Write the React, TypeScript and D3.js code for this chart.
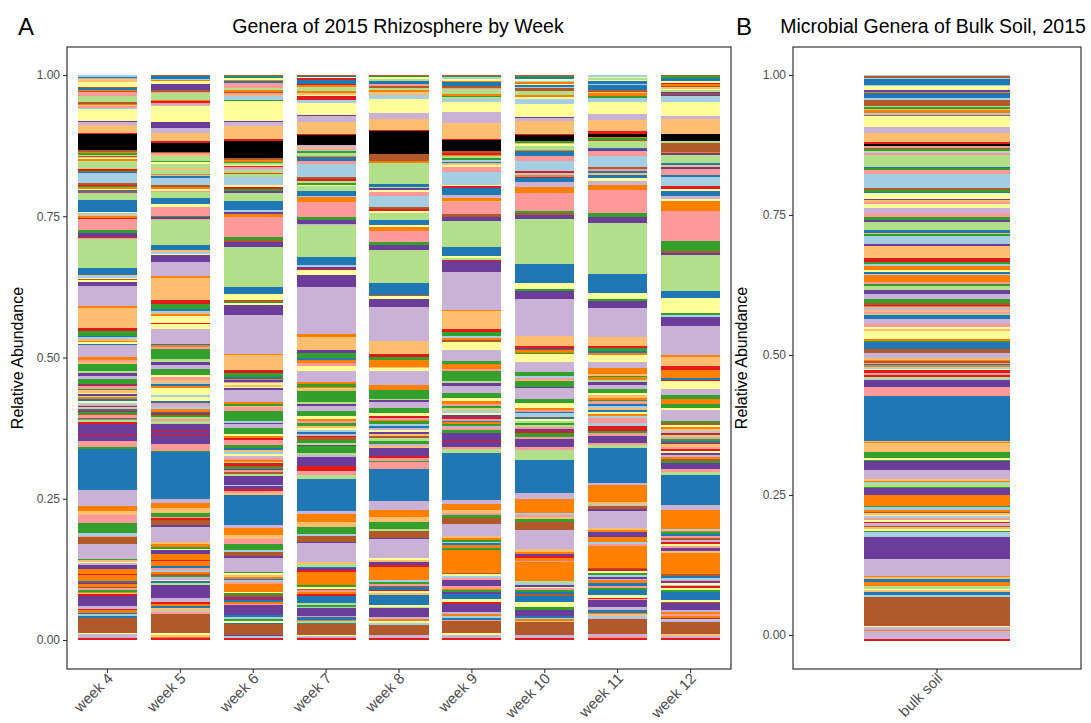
import { useEffect, useRef } from "react";
import * as d3 from "d3";

// fill colours (ColorBrewer "Paired" + black), keyed by one letter
const PALETTE: Record<string, string> = {
  a: "#A6CEE3", b: "#1F78B4", c: "#B2DF8A", d: "#33A02C",
  e: "#FB9A99", f: "#E31A1C", g: "#FDBF6F", h: "#FF7F00",
  i: "#CAB2D6", j: "#6A3D9A", k: "#FFFF99", l: "#B15928",
  z: "#000000",
};

const weeks = ["week 4", "week 5", "week 6", "week 7", "week 8", "week 9", "week 10", "week 11", "week 12"];
const yTicks = [0, 0.25, 0.5, 0.75, 1];

// genus segments, top of the bar first: colour key + abundance in %
const week4 = ["a0.35","b0.2","e0.2","c0.2","g0.2","k0.9","l0.3","b0.3","h0.2","l0.2","e0.7","c1.1","l0.2","h0.3","g0.2","e0.2","a0.3","k2.0","j0.35","i0.5","g1.4","f0.2","z2.8","l0.3","h0.2","d0.3","c0.2","l0.2","g0.2","k0.2","h0.3","c1.2","g0.2","f0.3","d0.2","b0.2","a1.8","l0.3","f0.3","d0.2","h0.2","k0.3","b0.2","l0.2","a0.2","c1.2","b2.1","k0.2","a0.3","g0.2","h0.3","f0.2","e1.9","d0.5","j0.7","f0.2","e0.2","c5.1","b1.2","g0.3","a0.3","k0.2","l0.2","k0.3","j0.7","i3.5","h0.4","g3.5","f0.5","d0.9","b0.3","a0.3","g0.3","h0.2","k0.4","b0.2","i2.0","h0.7","e0.3","g0.3","d1.2","c0.4","j0.5","i0.5","d0.9","f0.3","j0.2","e0.5","d0.2","g0.4","k0.3","j0.2","c0.3","h0.3","b0.3","k0.4","a0.3","e0.3","j0.2","g0.3","b0.3","f0.2","d0.3","l0.3","e0.4","b0.2","h0.3","c0.3","f0.3","j1.8","f0.2","j1.1","e1.0","d0.3","b7.4","i2.8","h0.9","g0.7","e1.4","d1.8","a0.4","e0.3","l1.1","i2.7","d0.2","g0.3","k0.3","i0.3","j0.7","h0.9","f0.2","h1.0","b0.3","f0.3","h0.4","l0.3","e0.3","d0.3","h0.3","c0.2","f0.2","j1.8","i0.5","f0.3","h0.4","b0.3","a0.3","b0.3","l2.7","k0.2","i0.7","f0.35"];
const week5 = ["l0.2","b0.2","b0.3","a0.2","h0.2","k0.5","j1.0","l0.3","e0.3","c1.1","h0.3","f0.3","e0.3","a0.2","k2.8","j1.0","i0.9","g1.4","f0.3","z1.6","l0.3","e0.2","g0.2","c0.9","d0.2","k0.3","c0.8","g0.2","c0.7","h0.2","a0.3","b0.2","a1.3","l0.4","h0.3","k0.3","e0.2","c1.1","b1.0","k0.5","e1.6","d0.2","j0.3","e0.2","c4.4","b0.8","g0.4","a0.3","k0.3","j1.1","i2.5","h0.4","g3.8","f0.7","d0.9","b0.3","a0.3","g0.3","h0.3","k1.2","f0.2","k0.8","i2.6","b0.2","h0.4","e0.3","d1.8","c0.5","j0.5","i0.7","d1.1","k0.4","e0.5","g0.4","a0.3","b0.3","h0.4","k1.2","a0.3","k0.7","b0.3","e0.4","i0.4","a0.3","h0.5","b0.3","f0.3","d0.3","c0.4","e0.3","c0.5","j1.0","f0.3","j0.7","f0.2","j1.4","e1.2","d0.2","b8.2","i0.7","h0.8","g0.9","d0.6","e0.2","f0.4","l0.9","j0.3","i2.6","g0.4","h0.5","d0.3","k0.3","j0.6","h1.0","f0.3","h0.9","b0.3","e0.3","a0.3","h0.4","l0.3","d0.3","i0.4","k0.3","b0.3","c0.4","j2.2","i0.7","f0.3","h0.5","b0.3","g0.4","a0.3","e0.3","l3.4","k0.3","g0.3","h0.2","f0.35"];
const week6 = ["l0.2","d0.2","b0.2","k0.3","h0.2","b0.3","e0.8","c0.5","h0.3","l0.2","e0.3","g0.2","a0.3","a0.3","d0.2","k3.5","j0.3","i0.7","g2.2","f0.4","z3.0","l0.3","h0.3","d0.2","c0.3","k0.2","f0.2","e0.3","a0.3","c0.3","g0.2","l0.2","c0.4","a1.5","k0.3","f0.4","d0.3","j0.3","c0.3","c1.2","b1.6","a0.3","j0.3","h0.5","e3.5","d0.6","l0.3","j0.9","c7.0","b1.3","k1.0","l0.3","d0.2","k0.4","j1.7","i6.8","h0.2","g2.6","f0.6","d0.7","b0.3","h0.3","j0.2","e0.3","k0.3","g0.3","k0.3","j0.3","i2.0","h0.4","d0.3","g0.3","e0.6","d1.8","a0.3","j0.2","i0.8","d1.0","k0.4","h0.3","f0.3","e0.9","d0.5","b0.3","g0.4","a0.3","k0.4","i0.3","e0.4","h0.3","c0.3","f0.4","l0.3","d0.3","j0.2","e0.3","l0.4","c0.4","j1.5","a0.2","j0.5","f0.3","e0.4","g0.3","b5.3","i0.6","h1.1","g0.7","e0.9","d1.1","a0.3","l0.8","j0.3","i2.4","d0.3","k0.3","g0.3","h0.3","b0.3","a0.3","e0.3","h0.3","h1.1","k0.2","d0.3","l0.4","j0.3","f0.3","b0.3","h0.3","e0.3","j1.6","b0.4","a0.4","d0.3","k0.3","b0.3","l1.9","j0.2","a0.3","f0.35"];
const week7 = ["l0.2","b0.2","k0.2","f0.2","b0.3","b0.4","f0.3","h0.2","c0.8","h0.4","g0.3","k0.2","f0.6","a0.5","k2.1","j0.2","i1.0","g2.1","f0.2","z1.8","i0.3","g0.3","e0.3","a0.2","d0.2","c0.5","h0.3","b0.6","e0.6","a2.3","l0.2","f0.5","c0.2","d0.4","k0.2","c0.8","b0.9","a0.3","h0.8","e2.6","d0.6","j0.6","i0.2","c5.6","b1.4","a0.3","j0.3","f0.2","k0.8","j2.1","i8.3","h0.4","g2.4","j0.4","d0.3","d0.6","b0.3","h0.5","e0.3","e0.3","k0.8","i2.0","h0.3","d0.5","h0.3","g0.4","d1.9","c0.4","j0.4","i0.8","d0.9","k0.6","h0.3","e0.4","d0.4","g0.3","k0.4","a0.3","b0.4","i0.3","f0.3","l0.5","d0.5","c0.3","j0.3","d1.1","c0.3","i0.5","j1.5","f0.8","e0.7","c0.7","b5.6","i0.5","h1.5","g0.8","d1.3","a0.3","l1.0","j0.2","i3.2","g0.5","c0.4","b0.2","j0.4","f0.3","h0.4","h1.9","d0.3","k0.3","l0.3","e0.3","h0.4","f0.3","b0.3","b1.0","c0.3","d0.3","a0.2","j1.3","e0.3","b0.4","h0.3","a0.3","d0.2","l1.9","k0.2","i0.3","f0.35"];
const week8 = ["l0.2","d0.2","k0.3","c0.3","b0.5","e0.4","l0.3","c0.4","h0.4","g0.4","a0.7","k2.4","i1.0","g1.9","f0.3","z3.9","l1.2","h0.4","c3.5","b0.5","c0.3","j0.3","k0.3","e0.8","a1.9","l0.3","f0.3","k0.3","c0.3","c0.9","b0.9","k0.3","h0.8","e1.8","d0.6","j0.9","c5.6","b2.0","l0.3","k0.5","j1.4","i5.7","g2.4","f0.4","d0.5","h1.2","g0.3","k0.5","i2.4","h0.9","d1.4","c0.3","j0.3","i1.0","d0.8","k0.6","f0.3","e0.3","h0.3","d0.5","a0.3","b0.4","i0.3","k0.4","j0.3","g0.4","l0.3","c0.5","d0.5","i0.3","g0.4","j1.4","f0.4","e0.4","d0.2","e1.2","b5.5","i1.5","h1.3","g0.9","d1.2","c0.3","l1.2","j0.2","i3.2","k0.3","g0.4","j0.5","f0.3","h0.3","h2.1","a0.3","d0.3","e0.3","l0.3","b0.4","f0.3","k0.3","g0.3","b1.8","k0.2","c0.2","j1.6","i0.3","h0.4","k0.3","a0.3","l1.8","i0.5","f0.35"];
const week9 = ["l0.2","d0.2","a0.3","k0.3","h0.3","b0.3","b0.3","l0.3","e0.3","c0.8","h0.3","d0.3","c0.3","a0.5","k1.8","i1.8","g2.8","f0.3","z1.8","l0.4","f0.3","h0.2","c0.4","d0.3","a0.3","b0.3","g0.3","k0.4","e0.8","a2.2","k0.3","f0.3","b0.3","b0.9","i0.5","h0.5","g0.3","e2.0","l0.5","j0.8","c4.5","b1.6","k0.3","c0.3","f0.3","j1.8","i6.7","h0.2","g3.1","f0.6","d0.7","a0.3","h0.4","l0.3","k1.3","i2.0","d0.5","h0.8","e0.4","d1.8","c0.3","j0.5","i1.2","d1.0","k0.5","h0.4","e0.4","d0.3","g0.3","c0.3","a0.3","k0.4","j0.3","f0.4","e0.3","b0.3","h0.3","d0.4","i0.3","e0.4","d0.5","j0.4","j1.0","f0.2","j0.8","e0.4","c0.6","b8.3","i0.7","h0.9","g0.6","e0.4","d0.5","l1.0","i2.1","g0.3","h0.4","d0.3","a0.3","b0.2","h0.6","d0.3","h4.0","l0.3","k0.3","a0.3","e0.3","j1.2","e0.4","h0.3","d0.3","j0.3","b0.9","k0.5","f0.3","j1.5","i0.3","h0.4","a0.3","b0.3","e0.2","l2.2","k0.3","i0.5","f0.35"];
const week10 = ["l0.2","d0.2","b0.3","k0.3","a0.2","h0.3","k0.2","b0.4","a0.2","l0.5","c0.6","h0.4","k0.3","a1.0","k2.2","j0.2","i0.6","g2.1","f0.2","z1.1","d0.3","g0.3","k0.2","c0.8","h0.2","b0.2","b0.6","e0.9","a1.8","f0.3","a0.3","h0.3","j0.2","b0.8","i0.9","h1.0","e3.1","d0.4","l0.3","j0.3","j0.4","c7.9","b3.3","k1.0","d0.3","j1.5","i6.4","g1.8","f0.4","b0.2","h0.5","d0.3","k1.3","i1.8","d0.7","a0.3","e0.3","g0.3","d1.0","j0.2","i1.9","d0.6","k0.9","h0.4","e0.3","b0.3","a0.4","g0.3","b0.3","k0.3","c0.3","d0.5","c0.3","e0.3","j0.3","f0.4","d0.7","e0.4","j1.4","e0.5","c1.8","b5.6","i1.2","h2.4","a0.3","e0.4","g0.3","d0.3","d0.3","l1.3","i3.4","g0.4","h0.4","j0.4","f0.3","h0.5","e0.2","h3.4","c0.3","a0.3","j0.3","k0.3","e0.3","d0.3","b0.4","l0.3","b1.1","k0.8","d0.5","j1.1","b0.3","a0.3","h0.3","g0.2","l2.2","i0.6","f0.3"];
const week11 = ["a0.3","k0.2","c0.3","k0.3","b0.4","a0.3","b0.8","l0.3","g0.3","h0.5","d0.3","a0.3","a0.4","k2.1","i1.0","g1.9","f0.5","z0.5","h0.3","d0.3","l0.2","c1.1","b0.3","j0.3","e0.8","a2.0","l0.3","e0.3","b0.4","g0.3","b0.6","k0.4","i0.7","h1.0","e4.0","d0.7","j0.9","c8.9","b3.3","k1.0","d0.4","j1.2","i5.1","g1.5","f0.4","d0.4","b0.4","h0.4","k1.2","i1.0","h1.0","g0.3","d0.3","h0.4","c0.5","j0.4","i0.8","d0.7","k0.3","g0.5","h0.3","d0.3","e0.4","b0.4","a0.3","g0.3","b0.4","k0.4","h0.3","a0.3","e1.0","a0.5","f0.9","d0.3","e0.4","j0.3","j1.0","e0.4","c0.5","b6.0","i0.3","h3.0","g0.5","a0.3","l0.4","j0.3","i3.0","g0.3","h0.4","j0.3","j0.6","h0.9","a0.3","e0.4","h3.7","l0.3","f0.3","k0.4","d0.3","a0.3","j0.3","i0.3","h0.4","b0.6","e0.3","d0.4","b0.9","k0.4","f0.3","e0.2","j1.1","i0.6","b0.4","h0.3","g0.3","a0.3","i0.2","l2.6","i0.3","e0.4","f0.35"];
const week12 = ["l0.2","d0.3","b0.6","k0.3","f0.2","h0.3","l0.3","g0.2","k0.3","c0.3","f0.2","b0.3","f0.2","a0.3","a0.8","k2.4","i0.6","g2.6","z1.2","c0.3","l1.6","h0.3","j0.3","c0.3","c1.1","b0.3","g0.4","j0.3","e0.3","e0.8","b0.3","a1.7","f0.4","k0.4","b1.0","i0.5","k0.3","h1.7","e5.4","d1.7","l0.3","j0.5","c6.3","b1.2","k2.7","d0.3","a0.4","j1.6","i5.1","h0.2","g1.7","f0.7","h1.4","b0.3","f0.2","k1.5","i1.0","d0.7","h0.8","d0.8","k0.3","i2.0","d0.3","l0.4","k0.4","h0.3","g0.4","a0.3","f0.4","c0.3","e0.3","d0.3","b0.4","f0.3","g0.4","e0.4","f0.3","k0.4","j0.4","i0.3","h0.4","l0.3","d0.3","j1.2","e0.5","c0.5","b5.3","i0.8","h3.4","a0.3","h0.3","d0.3","b0.3","e0.3","l0.4","i0.4","f0.3","k0.4","e0.4","j0.5","g0.3","h3.8","l0.3","b0.3","a0.3","e0.3","j0.3","k0.3","i0.3","f0.3","k0.4","d0.3","b0.4","b1.0","k0.3","l0.3","j1.1","i0.4","h0.3","e0.4","h0.3","f0.3","a0.3","i0.2","l2.1","g0.3","i0.4","f0.35"];
const bulkSoil = ["a0.2","l0.3","a0.2","b1.0","a0.3","k0.7","j0.2","h0.2","b1.0","a0.3","l1.1","c0.2","d0.2","g0.2","h0.6","a0.3","l0.2","k2.0","i1.0","g1.6","f0.3","z0.4","e0.3","l0.2","d0.3","c0.2","a0.2","e0.3","c2.1","b0.3","d0.3","e0.7","a2.5","l0.3","d0.3","b0.2","k1.0","j0.3","g0.3","e0.3","k0.7","i0.9","e0.8","d0.4","j0.4","c1.5","b0.4","g0.3","d0.3","a1.4","j0.4","g2.0","f0.8","d0.3","a0.3","h0.8","k0.3","b0.3","a0.3","h1.2","e0.3","d0.3","c0.8","j0.7","i0.8","d0.7","l0.3","f0.3","h0.2","i0.4","g0.4","e0.3","c0.3","b0.6","i1.0","e0.4","k0.4","g0.3","k1.5","h0.3","d0.2","b1.2","l0.7","i0.9","g0.3","h0.3","l0.2","e0.3","b0.2","h0.3","a0.3","k0.2","f0.5","e0.4","f0.3","c0.3","a0.3","j0.2","j0.9","e1.6","b7.9","g0.2","h0.2","g1.6","d1.1","k0.3","d0.2","j1.6","i1.5","g0.3","h0.3","a0.2","c0.6","d0.2","j1.3","h1.9","d0.2","a0.5","h0.3","l0.2","g0.3","k0.3","a0.3","e0.4","k0.3","f0.2","i0.4","l0.3","g0.3","k0.3","d0.3","a0.9","j3.7","i3.0","h0.3","g0.3","b0.5","h0.8","c0.4","k0.3","g0.3","b0.5","a0.4","l5.0","k0.2","i0.6","h0.2","i1.4","f0.3"];

const rhizosphere = [week4, week5, week6, week7, week8, week9, week10, week11, week12];
const bulkLabels = ["bulk soil"];

type Seg = { color: string; y0: number; y1: number };

// turn relative abundances into stacked intervals; first genus ends up on top
function stackBar(tokens: string[], base = 0): Seg[] {
  const parsed = tokens.map((t) => ({ color: PALETTE[t[0]], v: +t.slice(1) }));
  const total = d3.sum(parsed, (d) => d.v);
  const span = 1 - base;
  let top = 1;
  return parsed.map((d) => {
    const h = (d.v / total) * span;
    const seg = { color: d.color, y1: top, y0: top - h };
    top -= h;
    return seg;
  });
}

const W = 1091;
const H = 723;
const FONT = "'Liberation Sans', Arial, Helvetica, sans-serif";

export default function App() {
  const ref = useRef<SVGSVGElement | null>(null);

  useEffect(() => {
    const svgEl = ref.current;
    if (!svgEl) return;
    const svg = d3.select(svgEl);
    svg.selectAll("*").remove();
    svg.style("font-family", FONT);

    const drawPanel = (opts: {
      left: number; right: number; top: number; bottom: number;
      cats: string[]; bars: string[][]; yRange: [number, number];
      padInner: number; padOuter: number; base: number;
      letter: string; letterX: number; title: string; titleX: number; yTitleX: number;
    }) => {
      const x = d3.scaleBand<string>()
        .domain(opts.cats)
        .range([opts.left, opts.right])
        .paddingInner(opts.padInner)
        .paddingOuter(opts.padOuter);
      const y = d3.scaleLinear().domain([0, 1]).range(opts.yRange);

      const g = svg.append("g");
      opts.bars.forEach((tokens, i) => {
        const segs = stackBar(tokens, opts.base);
        g.append("g")
          .attr("shape-rendering", "crispEdges")
          .selectAll("rect")
          .data(segs)
          .join("rect")
          .attr("x", x(opts.cats[i]) ?? 0)
          .attr("width", x.bandwidth())
          .attr("y", (d) => y(d.y1))
          .attr("height", (d) => Math.max(0, y(d.y0) - y(d.y1)))
          .attr("fill", (d) => d.color);
      });

      // panel border
      svg.append("rect")
        .attr("x", opts.left).attr("y", opts.top)
        .attr("width", opts.right - opts.left).attr("height", opts.bottom - opts.top)
        .attr("fill", "none").attr("stroke", "#333").attr("stroke-width", 1.2);

      const yAxis = svg.append("g")
        .attr("transform", `translate(${opts.left},0)`)
        .call(d3.axisLeft(y).tickValues(yTicks).tickFormat(d3.format(".2f")).tickSize(4).tickPadding(3));
      yAxis.select(".domain").remove();
      yAxis.selectAll("line").attr("stroke", "#333").attr("stroke-width", 1.1);
      yAxis.selectAll("text").attr("fill", "#4d4d4d").style("font-size", "12px").style("font-family", FONT);

      const xAxis = svg.append("g")
        .attr("transform", `translate(0,${opts.bottom})`)
        .call(d3.axisBottom(x).tickSize(4).tickFormat(() => ""));
      xAxis.select(".domain").remove();
      xAxis.selectAll("line").attr("stroke", "#333").attr("stroke-width", 1.1);

      svg.append("g")
        .selectAll("text")
        .data(opts.cats)
        .join("text")
        .attr("transform", (d) => `translate(${(x(d) ?? 0) + x.bandwidth() / 2 - 1},${opts.bottom + 3}) rotate(-45)`)
        .attr("text-anchor", "end")
        .attr("dy", "0.7em")
        .attr("fill", "#4d4d4d")
        .style("font-size", "15px")
        .text((d) => d);

      svg.append("text")
        .attr("x", opts.letterX).attr("y", 35)
        .style("font-size", "24px")
        .text(opts.letter);
      svg.append("text")
        .attr("x", opts.titleX).attr("y", 33)
        .attr("text-anchor", "middle")
        .style("font-size", "19.5px")
        .text(opts.title);
      svg.append("text")
        .attr("transform", `translate(${opts.yTitleX},${(opts.top + opts.bottom) / 2}) rotate(-90)`)
        .attr("text-anchor", "middle")
        .style("font-size", "16px")
        .text("Relative Abundance");
    };

    drawPanel({
      left: 67, right: 731, top: 47, bottom: 669,
      cats: weeks, bars: rhizosphere, yRange: [640, 75],
      padInner: 0.19, padOuter: 0.15, base: 0,
      letter: "A", letterX: 18, title: "Genera of 2015 Rhizosphere by Week", titleX: 398, yTitleX: 23,
    });
    drawPanel({
      left: 793, right: 1081, top: 47, bottom: 669,
      cats: bulkLabels, bars: [bulkSoil], yRange: [635, 75],
      padInner: 0, padOuter: 0.493, base: -0.011,
      letter: "B", letterX: 736, title: "Microbial Genera of Bulk Soil, 2015", titleX: 933, yTitleX: 747,
    });
  }, []);

  return <svg ref={ref} width={W} height={H} style={{ position: "absolute", left: 0, top: 0, background: "#fff" }} />;
}
